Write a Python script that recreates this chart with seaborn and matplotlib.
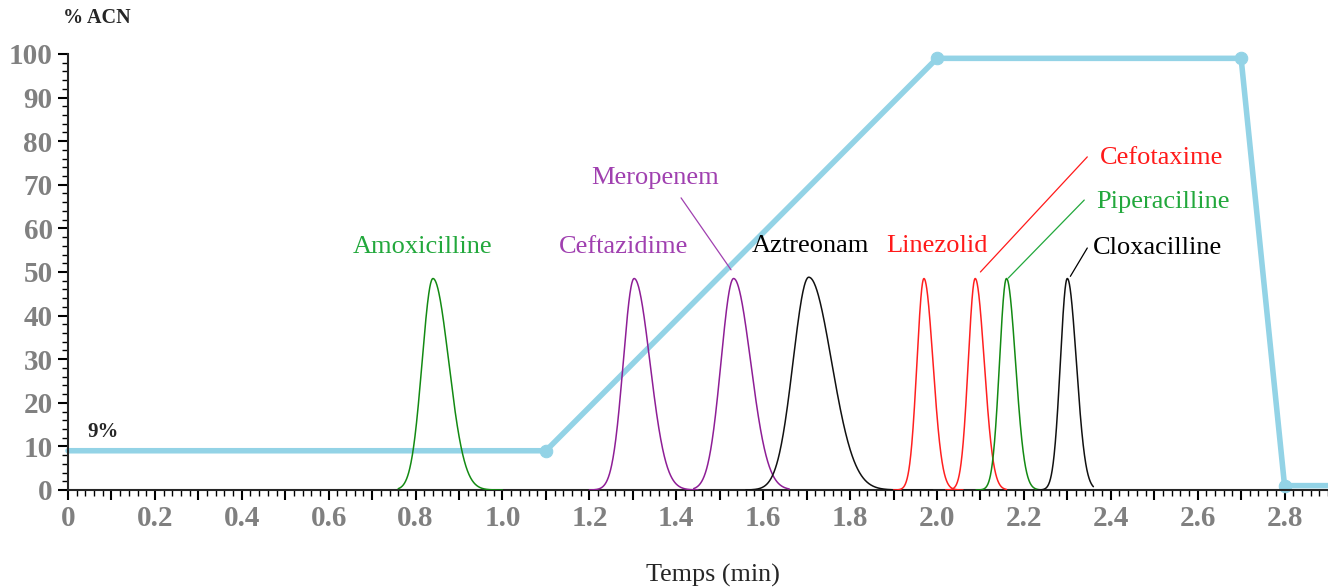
import numpy as np
import pandas as pd
import matplotlib.pyplot as plt
from matplotlib.ticker import MultipleLocator
import seaborn as sns

# gradient programme (% ACN vs time)
gradient_time = [0.0, 1.1, 2.0, 2.7, 2.8, 2.9]
gradient_acn = [9, 9, 99, 99, 1, 1]

# peaks: name, retention time, height, sigma (left), right/left asymmetry, drawn window
peak_names = ['Amoxicilline', 'Ceftazidime', 'Meropenem', 'Aztreonam',
              'Linezolid', 'Cefotaxime', 'Piperacilline', 'Cloxacilline']
peak_rt = [0.840, 1.303, 1.532, 1.705, 1.970, 2.088, 2.160, 2.300]
peak_height = [48.5, 48.5, 48.5, 48.8, 48.5, 48.5, 48.5, 48.5]
peak_sigma = [0.025, 0.025, 0.029, 0.036, 0.016, 0.016, 0.016, 0.016]
peak_asym = [1.45, 1.45, 1.35, 1.45, 1.3, 1.3, 1.3, 1.3]
peak_start = [0.76, 1.20, 1.44, 1.56, 1.90, 2.02, 2.09, 2.23]
peak_end = [1.00, 1.45, 1.66, 1.99, 2.06, 2.16, 2.24, 2.36]
peak_colors = ['#138a13', '#8e1e96', '#8e1e96', '#111111',
               '#ff2020', '#ff2020', '#138a13', '#111111']

label_colors = ['#22a83c', '#a040b0', '#a040b0', '#000000',
                '#ff1a1a', '#ff1a1a', '#22a83c', '#000000']
label_x = [0.817, 1.278, 1.352, 1.708, 2.001, 2.518, 2.520, 2.508]
label_y = [55.7, 55.7, 71.6, 56.0, 56.0, 76.1, 66.0, 55.5]
# leader lines (from text to peak apex), None where no line
leader_from = [None, None, (1.411, 67.0), None, None, (2.346, 76.4), (2.339, 66.5), (2.346, 55.5)]
leader_to = [None, None, (1.526, 50.5), None, None, (2.100, 50.0), (2.164, 48.6), (2.307, 49.0)]

sns.set_style('ticks')
plt.rcParams['font.family'] = ['Liberation Serif', 'DejaVu Serif']

fig = plt.figure(figsize=(13.28, 5.88), dpi=100)
ax = fig.add_axes([0.0512, 0.1667, 0.9488, 0.7415])

# peaks
rows = []
for i, name in enumerate(peak_names):
    t = np.linspace(peak_start[i], peak_end[i], 400)
    s = np.where(t < peak_rt[i], peak_sigma[i], peak_sigma[i] * peak_asym[i])
    y = peak_height[i] * np.exp(-0.5 * ((t - peak_rt[i]) / s) ** 2)
    rows.append(pd.DataFrame({'time': t, 'signal': y, 'peak': name}))
peaks = pd.concat(rows, ignore_index=True)

for i, name in enumerate(peak_names):
    sub = peaks[peaks.peak == name]
    sns.lineplot(data=sub, x='time', y='signal', color=peak_colors[i], lw=1.1, ax=ax,
                 zorder=3)

# gradient
grad = pd.DataFrame({'time': gradient_time, 'acn': gradient_acn})
sns.lineplot(data=grad, x='time', y='acn', color='#93d3e6', lw=4, marker='o', ms=9,
             markevery=[1, 2, 3, 4], mec='#93d3e6', ax=ax, zorder=2, clip_on=False)

# labels
for i, name in enumerate(peak_names):
    ax.text(label_x[i], label_y[i], name, color=label_colors[i], fontsize=19,
            ha='center', va='center')
    if leader_from[i] is not None:
        ax.plot([leader_from[i][0], leader_to[i][0]], [leader_from[i][1], leader_to[i][1]],
                color=label_colors[i], lw=0.9, zorder=4)

ax.text(0.08, 13.3, '9%', fontsize=15, fontweight='bold', ha='center', va='center')
fig.text(0.073, 0.969, '% ACN', fontsize=14.5, fontweight='bold', ha='center', va='center')
fig.text(0.537, 0.022, 'Temps (min)', fontsize=18.8, ha='center', va='center')

ax.set_xlim(0, 2.9)
ax.set_ylim(0, 100)
ax.set_xlabel('')
ax.set_ylabel('')

xt = np.round(np.arange(0, 2.81, 0.1), 1)
ax.set_xticks(xt)
ax.set_xticklabels(['0' if v == 0 else (f'{v:.1f}' if round(v * 10) % 2 == 0 else '') for v in xt])
ax.xaxis.set_minor_locator(MultipleLocator(0.02))
ax.set_yticks(range(0, 101, 10))
ax.yaxis.set_minor_locator(MultipleLocator(2))

ax.tick_params(axis='both', which='major', length=7, width=1.5, color='black',
               labelsize=21, labelcolor='#808080', pad=4)
ax.tick_params(axis='both', which='minor', length=4, width=1.0, color='black')
for lab in ax.get_xticklabels() + ax.get_yticklabels():
    lab.set_fontweight('bold')

sns.despine(ax=ax)
ax.spines['left'].set_linewidth(1.5)
ax.spines['bottom'].set_linewidth(1.5)

fig.savefig('out.png', dpi=100)
